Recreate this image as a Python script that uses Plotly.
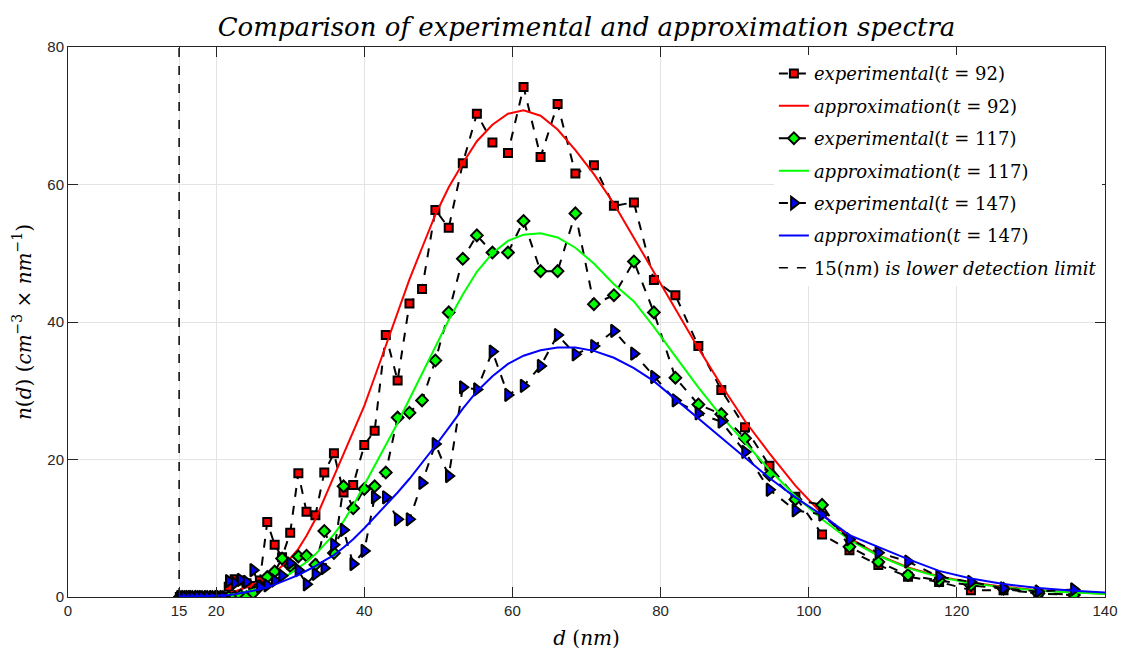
import plotly.graph_objects as go

# Particle diameter channels (nm)
d_exp = [15.1, 15.7, 16.3, 16.8, 17.5, 18.1, 18.8, 19.5, 20.2, 20.9,
         21.7, 22.5, 23.3, 24.1, 25.0, 25.9, 26.9, 27.9, 28.9, 30.0,
         31.1, 32.2, 33.4, 34.6, 35.9, 37.2, 38.5, 40.0, 41.4, 42.9,
         44.5, 46.1, 47.8, 49.6, 51.4, 53.3, 55.2, 57.3, 59.4, 61.5,
         63.8, 66.1, 68.5, 71.0, 73.7, 76.4, 79.1, 82.0, 85.1, 88.2,
         91.4, 94.7, 98.2, 101.8, 105.5, 109.4, 113.4, 117.6, 121.9, 126.3,
         131.0, 135.8]

# Measured number size distributions
exp_92 = [0, 0, 0, 0, 0, 0, 0, 0, 0, 0,
          1.5, 2.6, 2.4, 2.0, 1.6, 2.4, 10.9, 7.6, 5.8, 9.35,
          18.0, 12.4, 11.9, 18.1, 20.9, 15.2, 16.3, 22.1, 24.2, 38.1,
          31.5, 42.7, 44.8, 56.3, 53.7, 63.1, 70.3, 66.1, 64.6, 74.2,
          64.0, 71.7, 61.6, 62.8, 56.9, 57.4, 46.1, 43.9, 36.5, 30.1,
          24.7, 19.1, 14.6, 9.1, 6.8, 4.65, 2.95, 2.2, 1.0, 1.0,
          0.6, 0.3]
exp_117 = [0, 0, 0, 0, 0, 0, 0, 0, 0, 0,
           0, 0, 0.2, 0, 0.6, 1.6, 2.9, 3.7, 5.6, 4.5,
           5.9, 6.0, 4.7, 9.6, 6.4, 16.1, 12.9, 15.7, 16.1, 18.1,
           26.1, 26.8, 28.6, 34.4, 41.4, 49.2, 52.6, 50.1, 50.1, 54.7,
           47.4, 47.4, 55.8, 42.6, 43.9, 48.8, 41.4, 31.9, 28.0, 26.6,
           23.1, 17.8, 14.2, 13.4, 7.3, 5.1, 3.2, 2.4, 1.7, 1.2,
           0.5, 0.3]
exp_147 = [0, 0, 0, 0, 0, 0, 0, 0, 0, 0,
           2.3, 2.0, 2.5, 2.2, 3.9, 1.5, 1.7, 2.4, 3.1, 4.9,
           3.9, 1.85, 3.35, 4.2, 7.6, 9.75, 4.8, 6.7, 14.5, 14.5,
           11.3, 11.3, 16.6, 22.25, 17.6, 30.5, 30.2, 35.7, 29.4, 30.7,
           33.6, 38.1, 35.3, 36.5, 38.7, 35.4, 32.0, 28.6, 26.7, 25.5,
           21.1, 15.6, 12.6, 12.0, 8.4, 6.45, 5.15, 2.95, 2.2, 1.25,
           0.8, 1.1]

# Fitted distributions
d_fit = d_exp + [140.7]
fit_92 = [0, 0, 0, 0, 0.1, 0.1, 0.2, 0.2, 0.3, 0.4,
          0.55, 0.8, 1.1, 1.4, 1.8, 2.3, 2.9, 3.6, 4.5, 5.6,
          7.0, 8.9, 11.3, 14.3, 17.4, 20.6, 23.8, 27.8, 32.0, 36.6,
          41.5, 46.2, 50.8, 55.6, 59.6, 63.1, 66.3, 68.7, 70.3, 70.8,
          70.0, 68.0, 65.0, 61.5, 57.2, 52.2, 47.2, 41.8, 36.2, 30.8,
          25.6, 20.9, 16.2, 12.1, 8.6, 6.1, 4.3, 3.0, 2.1, 1.5,
          1.0, 0.7, 0.45]
fit_117 = [0, 0, 0, 0, 0.05, 0.05, 0.1, 0.1, 0.15, 0.2,
           0.3, 0.4, 0.55, 0.75, 1.0, 1.3, 1.7, 2.2, 2.7, 3.4,
           4.2, 5.1, 6.2, 7.6, 9.1, 11.0, 13.3, 16.3, 19.1, 22.0,
           25.3, 28.8, 32.5, 36.5, 40.3, 44.0, 47.3, 50.0, 51.8, 52.7,
           52.9, 52.3, 50.8, 48.5, 45.5, 43.0, 39.3, 35.0, 30.5, 26.3,
           22.4, 18.5, 14.7, 11.3, 8.3, 6.0, 4.2, 2.9, 2.0, 1.4,
           0.9, 0.6, 0.4]
fit_147 = [0.05, 0.05, 0.05, 0.1, 0.1, 0.1, 0.15, 0.2, 0.2, 0.25,
           0.3, 0.4, 0.55, 0.7, 0.9, 1.15, 1.4, 1.8, 2.2, 2.7,
           3.2, 3.8, 4.5, 5.3, 6.1, 7.2, 8.4, 10.0, 11.6, 13.3,
           15.2, 17.2, 19.5, 22.0, 24.6, 27.4, 29.9, 32.1, 33.9, 35.1,
           35.9, 36.3, 36.3, 35.8, 34.8, 33.3, 31.4, 28.8, 26.0, 23.2,
           20.3, 17.3, 14.5, 11.9, 9.0, 7.3, 5.5, 3.8, 2.7, 1.9,
           1.3, 0.9, 0.6]

# Lower detection limit (nm)
limit_d = 15
y_range = [0, 80]

x_ticks = [0, 15, 20, 40, 60, 80, 100, 120, 140]
y_ticks = [0, 20, 40, 60, 80]

SERIF = "DejaVu Serif"
AXIS_COLOR = "#262626"

fig = go.Figure()

series = [
    ("92", exp_92, fit_92, "#ff0000", "square", 8),
    ("117", exp_117, fit_117, "#00ff00", "diamond", 9),
    ("147", exp_147, fit_147, "#0000ff", "triangle-right", 11),
]

gi = 0
for t, yexp, yfit, color, symbol, msize in series:
    fig.add_trace(go.Scatter(
        x=d_exp, y=yexp, mode="lines+markers",
        name=f"<i>experimental</i>(<i>t</i> = {t})",
        line=dict(color="black", width=2, dash="dash"),
        marker=dict(symbol=symbol, size=msize, color=color,
                    line=dict(color="black", width=2)),
        legendgroup=f"g{gi}",
    ))
    gi += 1
    fig.add_trace(go.Scatter(
        x=d_fit, y=yfit, mode="lines",
        name=f"<i>approximation</i>(<i>t</i> = {t})",
        line=dict(color=color, width=2),
        legendgroup=f"g{gi}",
    ))
    gi += 1

fig.add_trace(go.Scatter(
    x=[limit_d, limit_d], y=y_range, mode="lines",
    name="15(<i>nm</i>) <i>is lower detection limit</i>",
    line=dict(color="black", width=1.5, dash="dash"),
    legendgroup=f"g{gi}",
))

axis_common = dict(
    showline=True, linecolor=AXIS_COLOR, linewidth=1, mirror="ticks",
    ticks="inside", ticklen=10, tickcolor=AXIS_COLOR, tickwidth=1,
    showgrid=True, gridcolor="#e3e3e3", gridwidth=1, zeroline=False,
    automargin=False,
    tickfont=dict(family="Liberation Sans", size=15, color=AXIS_COLOR),
)

fig.update_layout(
    width=1121, height=651,
    margin=dict(l=68, r=16, t=47, b=54),
    paper_bgcolor="white", plot_bgcolor="white",
    title=dict(
        text="<i>Comparison of experimental and approximation spectra</i>",
        x=0.5, xref="paper", xanchor="center", y=0.958, yanchor="middle",
        font=dict(family=SERIF, size=26, color="black"),
    ),
    xaxis=dict(range=[0, 140], tickvals=x_ticks,
               title=dict(text="<i>d</i> (<i>nm</i>)", standoff=12,
                          font=dict(family=SERIF, size=20, color="black")),
               **axis_common),
    yaxis=dict(range=y_range, tickvals=y_ticks,
               title=dict(text="<i>n</i>(<i>d</i>) (<i>cm</i><sup>−3</sup> × <i>nm</i><sup>−1</sup>)",
                          standoff=10,
                          font=dict(family=SERIF, size=20, color="black")),
               **axis_common),
    legend=dict(
        x=0.997, y=0.985, xanchor="right", yanchor="top",
        bgcolor="white", borderwidth=0,
        font=dict(family=SERIF, size=18, color="black"),
        tracegroupgap=6,
    ),
    showlegend=True,
)

fig.write_html("out.html")
